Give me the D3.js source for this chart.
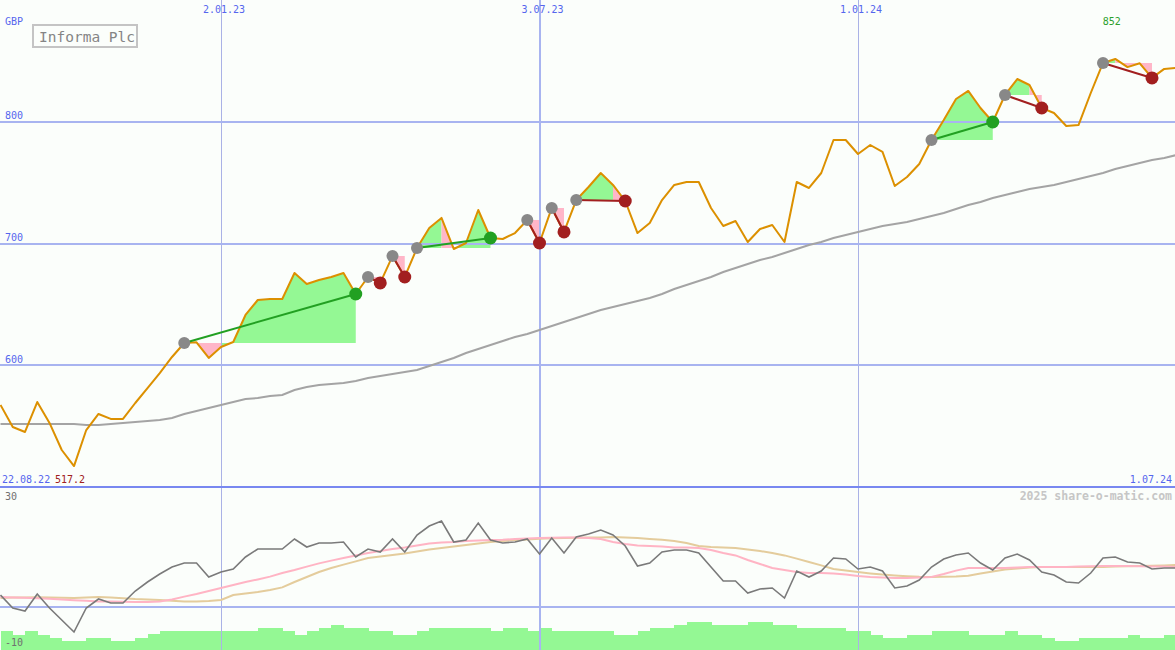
<!DOCTYPE html>
<html><head><meta charset="utf-8">
<script src="https://cdn.jsdelivr.net/npm/d3@7"></script>
<style>
body{margin:0;background:#fbfefb;}
svg{display:block;font-family:"DejaVu Sans Mono",monospace;}
</style>
</head><body>
<svg id="chart" width="1175" height="650"></svg>
<script>
// ---------- data ----------
const title = "Informa Plc";
const currency = "GBP";
const credit = "2025 share-o-matic.com";
const startDate = "2022-08-29";           // first weekly point
const firstDateLabel = "22.08.22";
const lastDateLabel = "1.07.24";

// weekly closing price (GBp)
const prices = [567.4, 549.3, 545.2, 569.8, 552.6, 530.4, 517.2, 546.8, 560.0, 555.9,
  555.9, 569.0, 581.3, 593.6, 606.8, 618.3, 618.8, 606.0, 615.0, 619.1,
  641.3, 653.6, 654.4, 654.4, 675.8, 666.7, 670.0, 672.5, 675.8, 658.5,
  672.5, 667.6, 689.7, 672.5, 696.3, 712.7, 721.0, 695.5, 700.4, 727.5,
  704.5, 703.7, 708.6, 719.3, 700.4, 729.2, 709.5, 735.7, 746.4, 757.9,
  748.1, 734.9, 708.6, 716.8, 735.7, 748.1, 750.5, 750.5, 729.2, 714.4,
  718.5, 701.2, 711.9, 715.2, 701.2, 750.5, 745.6, 757.9, 785.0, 785.0,
  773.5, 780.9, 775.2, 747.2, 754.6, 765.3, 785.0, 801.4, 818.7, 825.3,
  811.3, 799.8, 822.0, 835.1, 830.2, 811.3, 807.2, 796.5, 797.3, 823.6,
  848.3, 851.6, 844.9, 848.0, 836.0, 843.4, 844.2];

// long moving average
const movingAvg = [551.7, 551.7, 551.7, 551.7, 551.7, 551.7, 551.7, 550.9, 550.9, 551.7,
  552.6, 553.4, 554.2, 555.0, 556.7, 560.0, 562.4, 564.9, 567.4, 569.8,
  572.3, 573.1, 574.7, 575.6, 579.7, 582.1, 583.8, 584.6, 585.4, 587.1,
  589.5, 591.2, 592.8, 594.5, 596.1, 599.4, 602.7, 606.0, 610.1, 613.4,
  616.6, 619.9, 623.2, 625.7, 629.0, 632.2, 635.5, 638.8, 642.1, 645.4,
  647.9, 650.3, 652.8, 655.2, 658.5, 662.6, 665.9, 669.2, 672.5, 676.6,
  679.9, 683.2, 686.5, 688.9, 692.2, 695.5, 698.8, 701.2, 704.5, 707.0,
  709.5, 711.9, 714.4, 716.0, 717.7, 720.1, 722.6, 725.1, 728.3, 731.6,
  734.1, 737.4, 739.8, 742.3, 744.8, 746.4, 748.1, 750.5, 753.0, 755.4,
  757.9, 761.2, 763.7, 766.1, 768.6, 770.2, 772.7];

// lower panel indicator
const momentum = [3, -0.25, -1, 3.25, -0.25, -3.25, -6.25, -0.25, 2, 1,
  1, 4, 6.25, 8.25, 10, 11, 11, 7.5, 8.75, 9.5,
  12.5, 14.5, 14.5, 14.5, 17, 15, 16, 16, 16.25, 12.5,
  14.5, 13.75, 17, 13.75, 18, 20.25, 21.5, 16.25, 16.75, 21,
  16.75, 16, 16.25, 17, 13.25, 17.25, 13.5, 17.5, 18.25, 19.25,
  18, 15.25, 10.25, 11, 13.75, 14.25, 14.25, 13.5, 10, 6.5,
  6.5, 3.5, 4.5, 4.75, 2.25, 9, 7.5, 9, 12.25, 12,
  9.5, 10, 9, 4.75, 5.25, 6.75, 10, 12, 13, 13.5,
  11, 9.25, 12.25, 13.25, 11.75, 8.75, 8, 6.25, 6, 8.5,
  12.25, 12.5, 11.25, 11, 9.5, 9.75, 9.75];

const momentumFast = [2.5, 2.4, 2.3, 2.2, 2.05, 1.9, 1.7, 1.55, 1.4, 1.35,
  1.3, 1.25, 1.25, 1.4, 1.9, 2.6, 3.25, 4, 4.75, 5.5,
  6.25, 6.9, 7.6, 8.5, 9.25, 10.1, 10.9, 11.6, 12.25, 12.9,
  13.5, 14, 14.5, 14.9, 15.4, 15.9, 16.1, 16.25, 16.5, 16.6,
  16.75, 16.8, 17, 17.1, 17.25, 17.3, 17.4, 17.4, 17.25, 17,
  16.25, 15.75, 15.4, 15.25, 15.1, 14.9, 14.85, 14.75, 14.25, 13.5,
  12.9, 11.75, 10.75, 9.75, 9.25, 8.75, 8.5, 8.5, 8.4, 8.1,
  7.75, 7.5, 7.4, 7.25, 7.25, 7.4, 7.5, 8.25, 9.1, 9.75,
  9.75, 9.75, 9.75, 9.9, 10, 10, 10, 10, 10.1, 10.2,
  10.25, 10.25, 10.25, 10.2, 10.1, 10.1, 10];

const momentumSlow = [2.25, 2.35, 2.4, 2.45, 2.4, 2.3, 2.25, 2.35, 2.5, 2.35,
  2.2, 2, 1.9, 1.75, 1.55, 1.4, 1.4, 1.5, 1.75, 3,
  3.4, 3.75, 4.25, 4.9, 6.25, 7.5, 8.75, 9.75, 10.6, 11.4,
  12.25, 12.6, 13, 13.4, 13.9, 14.4, 14.75, 15.1, 15.5, 15.9,
  16.25, 16.5, 16.75, 16.9, 17.05, 17.2, 17.25, 17.3, 17.4, 17.4,
  17.5, 17.4, 17.25, 17, 16.8, 16.5, 16, 15.25, 15, 14.9,
  14.75, 14.4, 14, 13.5, 12.9, 12.1, 11.25, 10.4, 9.5, 9.1,
  8.75, 8.4, 8.1, 7.9, 7.7, 7.55, 7.5, 7.55, 7.6, 7.8,
  8.4, 8.9, 9.4, 9.6, 9.9, 10, 10, 10, 10, 10,
  10, 10.1, 10.2, 10.25, 10.3, 10.4, 10.5];

// weekly volume (relative units)
const volume = [19,15,19,15,12,9,9,12,12,9,
  9,12,16,19,19,19,19,19,19,19,
  19,22,22,19,15,19,22,25,22,22,
  19,19,15,15,19,22,22,22,22,22,
  19,22,22,19,22,19,19,19,19,19,
  15,15,19,22,22,25,28,28,25,25,
  25,28,28,25,25,22,22,22,22,19,
  19,15,12,12,15,15,19,19,19,15,
  15,15,19,15,15,12,9,9,12,12,
  12,12,15,12,12,15,15];

// trade signals: [start week index, end week index]
const signals = [[15,29],[30,31],[32,33],[34,40],[43,44],[45,46],[47,51],[76,81],[82,85],[90,94]];

const priceTicks = [600, 700, 800];
const dateTickDates = ["2023-01-02", "2023-07-03", "2024-01-01"];
const dateTickLabels = ["2.01.23", "3.07.23", "1.01.24"];
const lowerTickValues = [30, -10];

// ---------- scales ----------
const W = 1175, H = 650;
const svg = d3.select("#chart");
const dates = prices.map((_, i) => d3.utcDay.offset(new Date(startDate), 7 * i));
const x = d3.scaleUtc().domain([new Date("2023-01-02"), new Date("2024-01-01")]).range([221, 858]);
const y = d3.scaleLinear().domain([500, 900]).range([487, 0]);
const yl = d3.scaleLinear().domain([-10.75, 30]).range([650, 487]);
const yv = d3.scaleLinear().domain([0, 28]).range([650, 622]);

const C = {
  grid: "#a8b4f0", sep: "#7888f0", vgrid: "#aab2e6", blue: "#5566ee",
  price: "#dc9000", ma: "#a4a4a4", fillUp: "#94f894", fillDn: "#ffb6c8",
  lineUp: "#22a022", lineDn: "#a21f1f", dotStart: "#888888",
  mom: "#7a7a7a", momFast: "#ffb4c4", momSlow: "#e4cc9c"
};

svg.append("rect").attr("width", W).attr("height", H).attr("fill", "#fbfefb");

// volume bars
svg.append("g").selectAll("rect").data(volume).join("rect")
  .attr("x", (d, i) => x(dates[i]))
  .attr("width", (d, i) => x(d3.utcDay.offset(dates[i], 7)) - x(dates[i]) + 0.5)
  .attr("y", d => Math.round(yv(d)))
  .attr("height", d => H - Math.round(yv(d)))
  .attr("fill", C.fillUp)
  .attr("shape-rendering", "crispEdges");

// signal fills: consecutive same-colour segments merged into one polygon
const fillG = svg.append("g");
signals.forEach(([s, e]) => {
  const base = prices[s];
  let i = s;
  while (i < e) {
    const up = prices[i + 1] >= base;
    let j = i;
    while (j < e && (prices[j + 1] >= base) === up) j++;
    const top = [];
    for (let k = i; k <= j; k++) top.push([x(dates[k]), y(prices[k])]);
    const pts = [[x(dates[i]), y(base)], ...top, [x(dates[j]), y(base)]];
    fillG.append("path").attr("d", d3.line()(pts) + "Z")
      .attr("fill", up ? C.fillUp : C.fillDn);
    i = j;
  }
});

// vertical date lines
dateTickDates.forEach((d, k) => {
  const dt = new Date(d);
  const xx = Math.round(x(dt));
  const jul = dt.getUTCMonth() === 6;
  svg.append("line").attr("x1", jul ? xx : xx + 0.5).attr("x2", jul ? xx : xx + 0.5)
    .attr("y1", 0).attr("y2", H)
    .attr("stroke", jul ? C.grid : C.vgrid).attr("stroke-width", jul ? 2 : 1)
    .attr("shape-rendering", "crispEdges");
  svg.append("text").attr("x", x(dt) + 3).attr("y", 12.5).attr("text-anchor", "middle")
    .attr("font-size", 10).attr("fill", C.blue).text(dateTickLabels[k]);
});

// horizontal price grid
priceTicks.forEach(t => {
  const yy = Math.round(y(t));
  svg.append("line").attr("x1", 0).attr("x2", W).attr("y1", yy).attr("y2", yy)
    .attr("stroke", C.grid).attr("stroke-width", 2).attr("shape-rendering", "crispEdges");
  svg.append("text").attr("x", 5).attr("y", y(t) - 2.5).attr("font-size", 10)
    .attr("fill", C.blue).text(t);
});
// lower zero line
svg.append("line").attr("x1", 0).attr("x2", W).attr("y1", Math.round(yl(0))).attr("y2", Math.round(yl(0)))
  .attr("stroke", C.grid).attr("stroke-width", 2).attr("shape-rendering", "crispEdges");
// panel separator
svg.append("line").attr("x1", 0).attr("x2", W).attr("y1", Math.round(y(500))).attr("y2", Math.round(y(500)))
  .attr("stroke", C.sep).attr("stroke-width", 2).attr("shape-rendering", "crispEdges");

// moving average and price
const lineP = d3.line().x((d, i) => x(dates[i])).y(d => y(d));
svg.append("path").attr("d", lineP(movingAvg)).attr("fill", "none")
  .attr("stroke", C.ma).attr("stroke-width", 2);
svg.append("path").attr("d", lineP(prices)).attr("fill", "none")
  .attr("stroke", C.price).attr("stroke-width", 2).attr("stroke-linejoin", "round");

// signal lines and dots
signals.forEach(([s, e]) => {
  const up = prices[e] >= prices[s];
  svg.append("line").attr("x1", x(dates[s])).attr("y1", y(prices[s]))
    .attr("x2", x(dates[e])).attr("y2", y(prices[e]))
    .attr("stroke", up ? C.lineUp : C.lineDn).attr("stroke-width", 2);
});
signals.forEach(([s, e]) => {
  const up = prices[e] >= prices[s];
  svg.append("circle").attr("cx", x(dates[s])).attr("cy", y(prices[s])).attr("r", 6)
    .attr("fill", C.dotStart);
  svg.append("circle").attr("cx", x(dates[e])).attr("cy", y(prices[e])).attr("r", 6.5)
    .attr("fill", up ? C.lineUp : C.lineDn);
});

// lower panel lines
const lineL = d3.line().x((d, i) => x(dates[i])).y(d => yl(d));
svg.append("path").attr("d", lineL(momentumSlow)).attr("fill", "none")
  .attr("stroke", C.momSlow).attr("stroke-width", 2);
svg.append("path").attr("d", lineL(momentumFast)).attr("fill", "none")
  .attr("stroke", C.momFast).attr("stroke-width", 2);
svg.append("path").attr("d", lineL(momentum)).attr("fill", "none")
  .attr("stroke", C.mom).attr("stroke-width", 1.6);

// texts
svg.append("text").attr("x", 5).attr("y", 25).attr("font-size", 10).attr("fill", C.blue).text(currency);
svg.append("rect").attr("x", 33).attr("y", 25).attr("width", 104).attr("height", 22)
  .attr("fill", "none").attr("stroke", "#c4c4c4").attr("stroke-width", 2);
svg.append("text").attr("x", 39).attr("y", 41.5).attr("font-size", 14.5).attr("fill", "#858585").text(title);

const maxI = d3.maxIndex(prices), minI = d3.minIndex(prices);
svg.append("text").attr("x", x(dates[maxI]) - 3.5).attr("y", 25).attr("text-anchor", "middle")
  .attr("font-size", 10).attr("fill", "#2ca02c").text(d3.format(".0f")(prices[maxI]));
svg.append("text").attr("x", 2).attr("y", 482.5).attr("font-size", 10).attr("fill", C.blue).text(firstDateLabel);
svg.append("text").attr("x", 55).attr("y", 482.5).attr("font-size", 10).attr("fill", "#a02020")
  .text(d3.format(".1f")(prices[minI]));
svg.append("text").attr("x", 1172).attr("y", 482.5).attr("text-anchor", "end").attr("font-size", 10)
  .attr("fill", C.blue).text(lastDateLabel);
svg.append("text").attr("x", 1172).attr("y", 500).attr("text-anchor", "end").attr("font-size", 11.5)
  .attr("font-weight", "bold").attr("fill", "#c6c6c6").text(credit);
lowerTickValues.forEach(v => {
  svg.append("text").attr("x", 5).attr("y", v > 0 ? 499.5 : 646).attr("font-size", 10)
    .attr("fill", "#707070").text(v);
});
</script>
</body></html>
